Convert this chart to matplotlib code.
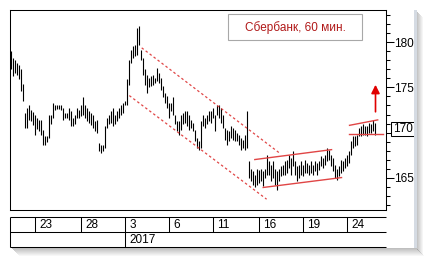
import numpy as np
import matplotlib
matplotlib.use("Agg")
import matplotlib.pyplot as plt
from matplotlib.patches import Rectangle
from matplotlib.ticker import MultipleLocator, FuncFormatter
from matplotlib.transforms import blended_transform_factory

plt.rcParams['font.family'] = ['Liberation Sans', 'DejaVu Sans']
plt.rcParams['font.size'] = 8

# hourly bars (high / low)
highs = [179.1, 178.3, 178.0, 177.7, 177.5, 177.0, 175.4, 172.2, 172.7, 173.0,
         172.5, 172.3, 172.0, 171.6, 171.4, 171.4, 170.3, 169.6, 169.6, 171.9,
         172.0, 173.3, 173.1, 173.1, 173.0, 173.0, 172.7, 172.2, 172.2, 172.7,
         172.4, 171.6,
         172.0, 172.7, 172.5, 173.0, 173.9, 173.1, 172.7, 172.4, 172.2, 172.0,
         171.3, 171.4, 168.8, 168.6, 168.6, 170.7, 171.6, 172.0, 172.4, 172.7,
         172.0, 172.4, 172.7, 173.0, 173.3, 173.5, 175.9, 178.0, 179.2, 179.6,
         179.7, 181.6,
         181.8, 179.2, 178.3, 177.0, 176.4, 176.1, 176.3, 176.4, 176.1, 177.2,
         176.6, 176.1, 175.2, 174.4, 174.1, 173.3, 173.3, 173.9, 172.0, 171.3,
         171.3, 172.0, 172.2, 172.4, 172.4, 172.0, 171.4, 171.1, 170.3, 169.4,
         169.1,
         171.3, 172.0, 171.6, 172.0, 172.4, 172.4, 172.7, 172.0, 173.1, 173.1,
         172.7, 172.0, 170.5, 170.3, 170.2, 170.7, 170.5, 170.3, 170.0, 169.7,
         169.4, 169.2, 169.7, 172.4, 166.8, 166.0, 165.7, 165.3, 166.0, 165.8,
         166.0, 165.7, 166.0,
         167.5, 166.8, 166.4, 166.8, 166.0, 165.7, 166.0, 166.3, 166.4, 166.8,
         167.0, 167.5, 167.2, 168.0, 166.8, 166.3, 166.4, 166.8, 166.4, 167.0,
         166.6, 166.4, 166.8, 166.4, 166.8, 166.6, 166.8, 167.4, 167.2, 167.5,
         168.3, 168.1,
         167.5, 167.2, 166.4, 166.0, 166.3, 167.0, 166.8, 167.2, 167.5, 168.0,
         169.1, 169.6, 169.6, 169.7, 170.5, 170.7, 170.9, 170.7, 170.7, 171.1,
         170.9, 171.4, 171.1]
lows = [177.0, 176.3, 176.6, 176.4, 175.9, 174.6, 173.5, 170.5, 170.5, 171.4,
        171.3, 170.8, 169.7, 170.4, 170.2, 169.7, 168.6, 168.6, 168.9, 169.4,
        170.9, 171.6, 172.5, 172.6, 172.6, 172.5, 171.4, 171.6, 171.6, 171.4,
        170.7, 170.7,
        170.9, 171.6, 171.6, 171.8, 172.0, 171.6, 171.3, 171.1, 170.8, 170.5,
        170.2, 170.0, 168.0, 167.7, 168.0, 168.3, 170.5, 170.9, 171.1, 170.7,
        170.9, 171.3, 171.6, 172.0, 172.2, 173.0, 173.1, 175.3, 177.7, 178.3,
        178.5, 178.6,
        179.7, 178.0, 176.4, 175.3, 174.4, 175.0, 175.2, 175.3, 175.5, 175.7,
        175.5, 174.7, 173.9, 173.3, 172.7, 171.6, 172.4, 171.9, 170.9, 170.2,
        169.7, 170.3, 170.9, 171.1, 170.7, 170.3, 170.5, 170.2, 169.1, 168.3,
        168.1,
        168.3, 170.7, 170.5, 170.9, 171.3, 171.1, 171.6, 170.2, 172.0, 171.6,
        171.1, 170.5, 169.2, 168.6, 169.1, 169.4, 169.2, 169.1, 169.1, 168.6,
        168.1, 168.3, 168.1, 168.3, 165.0, 164.6, 164.2, 163.9, 164.2, 164.4,
        164.6, 164.1, 165.0,
        165.3, 165.3, 164.6, 165.0, 164.2, 163.6, 164.6, 165.2, 165.3, 165.3,
        165.5, 166.1, 165.3, 166.3, 165.3, 164.6, 165.0, 165.3, 165.2, 165.5,
        165.5, 165.3, 165.5, 165.3, 165.7, 165.3, 165.8, 166.3, 166.1, 166.4,
        166.8, 167.0,
        166.3, 165.7, 165.0, 164.7, 165.2, 165.5, 165.7, 166.1, 166.3, 166.6,
        167.5, 168.3, 168.5, 168.6, 169.6, 169.6, 169.7, 169.7, 169.6, 170.0,
        170.0, 170.2, 169.7]

# day labels and the bar where each day starts
date_labels = ['23', '28', '3', '6', '11', '16', '19', '24']
date_bars = [12, 35, 57, 79, 101, 124, 146, 168]
year_label = '2017'
year_bar = 57

title = 'Сбербанк, 60 мин.'
last_price = 170.4

# trend lines: (bars, prices)
fall_upper = ([65.4, 134.5], [179.4, 167.7])
fall_lower = ([59.2, 127.9], [174.1, 162.6])
base_upper = ([122.0, 160.4], [167.0, 168.1])
base_lower = ([126.2, 165.4], [163.9, 165.0])
flag_upper = ([169.4, 183.5], [170.8, 171.4])
flag_lower = ([168.9, 186.0], [169.8, 169.8])
target = (182.4, 172.3, 175.3)   # bar, from, to

W, H = 431, 263
fig = plt.figure(figsize=(W / 100, H / 100), dpi=100)
fig.patch.set_facecolor('white')


def px_box(x0, y0, x1, y1):
    return [x0 / W, 1 - y1 / H, (x1 - x0) / W, (y1 - y0) / H]


ax = fig.add_axes(px_box(10, 10, 385.7, 210))
x = np.arange(len(highs))
ax.vlines(x, lows, highs, color='black', lw=0.8)
ax.set_xlim(-0.5, 187.5)
ax.set_ylim(161.4, 183.6)
ax.set_xticks([])
ax.yaxis.tick_right()
ax.yaxis.set_major_locator(MultipleLocator(5))
ax.yaxis.set_minor_locator(MultipleLocator(1))
ax.yaxis.set_major_formatter(FuncFormatter(lambda v, p: '' if abs(v - 170) < 0.01 else f'{v:.0f}'))
ax.tick_params(axis='y', which='major', length=5.5, width=0.75, pad=0.8, labelsize=8.5)
ax.tick_params(axis='y', which='minor', length=3, width=0.75)
for s in ax.spines.values():
    s.set_linewidth(0.75)

red = '#e04545'
ax.plot(*fall_upper, color=red, lw=0.9, ls=(0, (2, 2)))
ax.plot(*fall_lower, color=red, lw=0.9, ls=(0, (2, 2)))
for ln in (base_upper, base_lower, flag_upper, flag_lower):
    ax.plot(*ln, color=red, lw=1.0, clip_on=False)

ax.annotate('', xy=(target[0], target[2]), xytext=(target[0], target[1]),
            arrowprops=dict(arrowstyle='-|>,head_length=0.5,head_width=0.25',
                            color='#e00000', lw=1.2, shrinkA=0, shrinkB=0,
                            mutation_scale=10))

tr = blended_transform_factory(ax.transAxes, ax.transData)
ax.text(1.019, last_price, f'{last_price:.2f}'.replace('.', ','), transform=tr,
        va='center', ha='left', fontsize=8.5, clip_on=False,
        bbox=dict(boxstyle='square,pad=0.12', fc='white', ec='black', lw=0.75))

# date panel
dax = fig.add_axes(px_box(10, 217.3, 385.7, 247.3))
dax.set_xlim(ax.get_xlim())
dax.set_ylim(2, 0)
dax.axis('off')
kw = dict(color='black', lw=0.75, clip_on=False)
dax.hlines([0, 1, 2], -0.5, 187.5, **kw)
dax.vlines([-0.5], 0, 2, **kw)
dax.vlines(date_bars, 0, 1, **kw)
dax.vlines([year_bar], 1, 2, **kw)
for b, lab in zip(date_bars, date_labels):
    dax.text(b + 2.3, 0.52, lab, va='center', ha='left', fontsize=8.5)
dax.text(year_bar + 2.3, 1.52, year_label, va='center', ha='left', fontsize=8.5)

# overlay: title box, window frame and shadow
ov = fig.add_axes([0, 0, 1, 1], zorder=10)
ov.set_xlim(0, W)
ov.set_ylim(H, 0)
ov.axis('off')
ov.patch.set_alpha(0)
ov.add_patch(Rectangle((228.3, 14), 134, 26, fc='white', ec='#a8a8a8', lw=0.8))
ov.text(295.3, 27.5, title, color='#b01818', ha='center', va='center', fontsize=8.5)

ov.add_patch(Rectangle((414, 0), W - 414, H, fc='white', ec='none'))
ov.add_patch(Rectangle((414, 10), 3, 238, fc='#d5dbe3', ec='none'))
for k in range(6):
    ov.add_patch(Rectangle((417 + k, 12 + k), 1, 238, fc='#808080', ec='none',
                           alpha=0.45 * (1 - k / 6)))
for k in range(8):
    ov.add_patch(Rectangle((12 + k, 248 + k), 405, 1, fc='#808080', ec='none',
                           alpha=0.5 * (1 - k / 8)))

fig.savefig('out.png', dpi=100)
